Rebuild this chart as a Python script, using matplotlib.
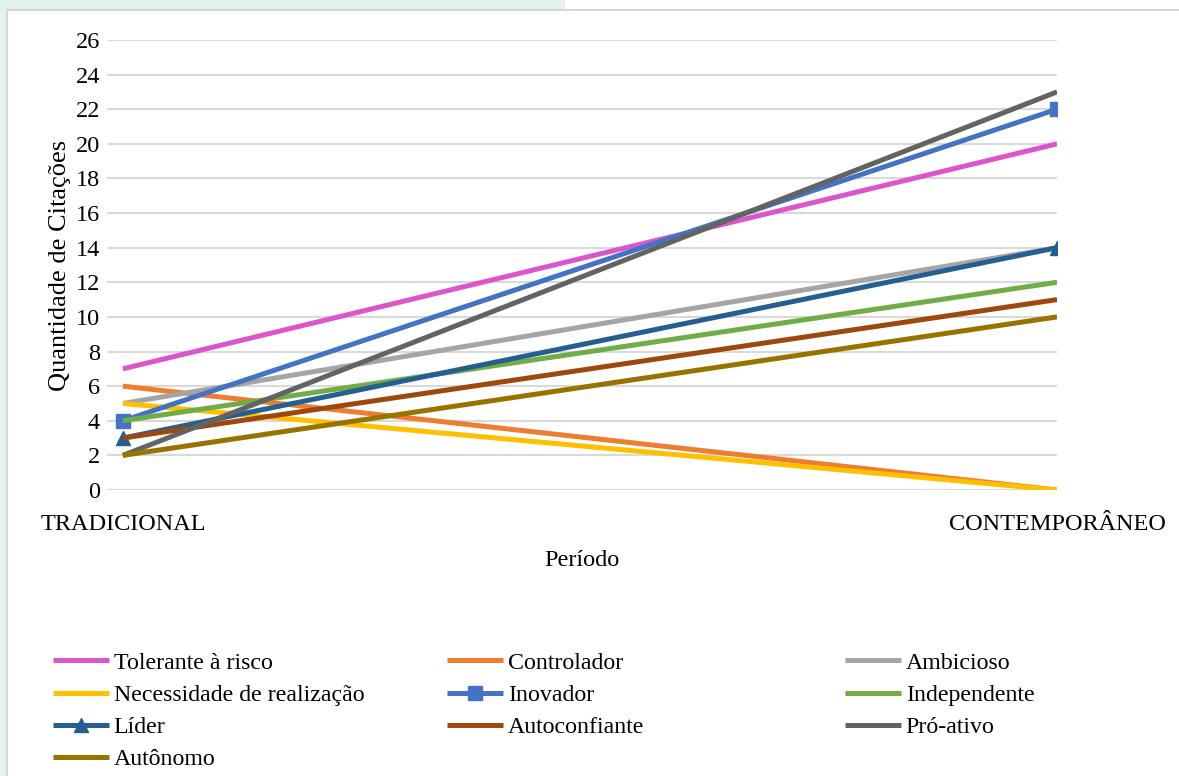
import matplotlib.pyplot as plt
from matplotlib.patches import Rectangle

plt.rcParams['font.family'] = ['Liberation Serif', 'DejaVu Serif']

periods = ["TRADICIONAL", "CONTEMPORÂNEO"]
labels = ["Tolerante à risco", "Controlador", "Ambicioso",
          "Necessidade de realização", "Inovador", "Independente",
          "Líder", "Autoconfiante", "Pró-ativo", "Autônomo"]
tradicional = [7, 6, 5, 5, 4, 4, 3, 3, 2, 2]
contemporaneo = [20, 0, 14, 0, 22, 12, 14, 11, 23, 10]
colors = ["#DD55CC", "#ED7D31", "#A5A5A5", "#FFC000", "#4472C4",
          "#70AD47", "#255E91", "#9E480E", "#636363", "#997300"]
markers = [None, None, None, None, "s", None, "^", None, None, None]

W, H = 1179, 776
fs = 17.5
fig = plt.figure(figsize=(W / 100, H / 100), dpi=100)
fig.patch.set_facecolor("white")

# decorative background frame
fig.add_artist(Rectangle((0, 0), 7 / W, 1, transform=fig.transFigure,
                         facecolor="#E3F3EA", edgecolor="none", zorder=0))
fig.add_artist(Rectangle((0, 1 - 10 / H), 565 / W, 10 / H, transform=fig.transFigure,
                         facecolor="#E3F3EA", edgecolor="none", zorder=0))
fig.add_artist(Rectangle((7 / W, -0.01), 1, 1 - 10 / H + 0.01, transform=fig.transFigure,
                         facecolor="white", edgecolor="#D0D0D0", lw=1.2, zorder=0))

ax = fig.add_axes([107 / W, (H - 490) / H, (1057 - 107) / W, 450 / H])
ax.set_facecolor("none")

x = [0, 1]
handles = []
for lab, a, b, c, m in zip(labels, tradicional, contemporaneo, colors, markers):
    ln, = ax.plot(x, [a, b], color=c, lw=3.6, marker=m, markersize=10,
                  label=lab, solid_capstyle="butt", zorder=3)
    handles.append(ln)

ax.set_xlim(-0.017, 1)
ax.set_ylim(0, 26)
ax.set_yticks(range(0, 27, 2))
ax.set_xticks(x)
ax.set_xticklabels(periods)
ax.grid(axis="y", color="#D9D9D9", lw=1.5)
ax.set_axisbelow(True)
for s in ax.spines.values():
    s.set_visible(False)
ax.tick_params(length=0, labelsize=fs, colors="black")
ax.tick_params(axis="y", pad=5)
ax.tick_params(axis="x", pad=17)
ax.set_ylabel("Quantidade de Citações", fontsize=19, labelpad=3)
ax.set_xlabel("Período", fontsize=fs, labelpad=11)

# legend in three evenly spaced columns
cols = [[0, 3, 6, 9], [1, 4, 7], [2, 5, 8]]
xs = [53, 447, 845]
lfs = 17.2
for col, xp in zip(cols, xs):
    fig.legend([handles[i] for i in col], [labels[i] for i in col],
               loc="upper left", bbox_to_anchor=(xp / W, 1 - 652 / H),
               frameon=False, fontsize=lfs, handlelength=2.34, handletextpad=0.2,
               labelspacing=0.44, borderaxespad=0, borderpad=0)

fig.savefig("out.png", dpi=100, facecolor=fig.get_facecolor())
